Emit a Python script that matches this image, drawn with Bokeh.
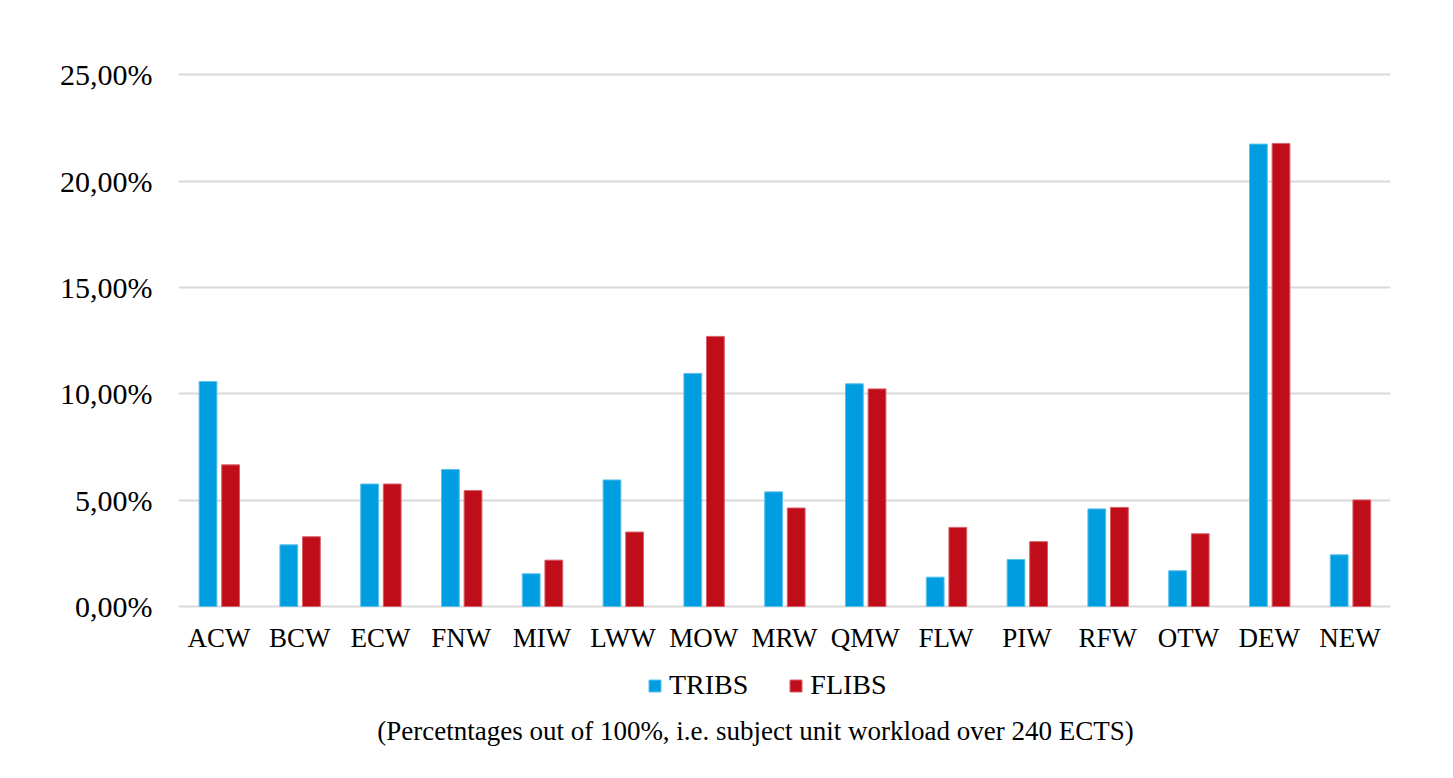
from bokeh.plotting import figure
from bokeh.models import ColumnDataSource, FactorRange, Legend, LegendItem, Label, CustomJSTickFormatter, FixedTicker, Range1d
from bokeh.transform import dodge
from bokeh.embed import file_html
from bokeh.resources import INLINE

categories = ["ACW", "BCW", "ECW", "FNW", "MIW", "LWW", "MOW", "MRW", "QMW", "FLW", "PIW", "RFW", "OTW", "DEW", "NEW"]
tribs = [10.58, 2.90, 5.76, 6.44, 1.54, 5.95, 10.96, 5.39, 10.47, 1.38, 2.21, 4.59, 1.68, 21.74, 2.43]
flibs = [6.66, 3.28, 5.76, 5.45, 2.18, 3.50, 12.70, 4.63, 10.23, 3.72, 3.05, 4.66, 3.42, 21.77, 5.01]
y_ticks = [0, 5, 10, 15, 20, 25]
series_names = ["TRIBS", "FLIBS"]
subtitle = "(Percetntages out of 100%, i.e. subject unit workload over 240 ECTS)"

BLUE = "#009EE0"
RED = "#C00D1A"
FONT = "Liberation Serif"

src = ColumnDataSource(dict(cat=categories, tribs=tribs, flibs=flibs))

# frame extends below the zero line to hold tick labels, legend and note
p = figure(x_range=FactorRange(*categories, range_padding=0), y_range=Range1d(-7.71, 25.2),
           frame_width=1212, frame_height=700, output_backend="svg", toolbar_location=None,
           min_border_left=178, min_border_right=55, min_border_top=70, min_border_bottom=0)
p.outline_line_color = None

r1 = p.vbar(x=dodge("cat", -0.135, range=p.x_range), top="tribs", width=0.22, source=src,
            fill_color=BLUE, line_color="#5CC0EC", line_width=1)
r2 = p.vbar(x=dodge("cat", 0.145, range=p.x_range), top="flibs", width=0.22, source=src,
            fill_color=RED, line_color="#D8606A", line_width=1)

p.yaxis.ticker = FixedTicker(ticks=y_ticks)
p.yaxis.formatter = CustomJSTickFormatter(code="return tick.toFixed(2).replace('.', ',') + '%';")
p.xaxis.fixed_location = 0
for ax in (p.xaxis[0], p.yaxis[0]):
    ax.axis_line_color = None
    ax.major_tick_line_color = None
    ax.minor_tick_line_color = None
    ax.major_tick_out = 0
    ax.major_tick_in = 0
    ax.major_label_text_font = FONT
    ax.major_label_text_color = "#000000"
p.xaxis.major_label_text_font_size = "27px"
p.yaxis.major_label_text_font_size = "30px"
p.yaxis.major_label_standoff = 26
p.xaxis.major_label_standoff = 16

p.xgrid.grid_line_color = None
p.ygrid.grid_line_color = "#D9D9D9"
p.ygrid.grid_line_width = 2

legend = Legend(items=[LegendItem(label=series_names[0], renderers=[r1]),
                       LegendItem(label=series_names[1], renderers=[r2])],
                orientation="horizontal", location=(469, 69),
                label_text_font=FONT, label_text_font_size="28px", label_text_color="#000000",
                glyph_width=15, glyph_height=15, label_standoff=7, spacing=40,
                border_line_color=None, background_fill_alpha=0, padding=0, margin=0,
                label_height=28)
p.add_layout(legend, "center")

note = Label(x=577, y=40, x_units="screen", y_units="screen", text=subtitle,
             text_align="center", text_baseline="middle", text_font=FONT,
             text_font_size="27px", text_color="#000000")
p.add_layout(note)

open("out.html", "w").write(file_html(p, INLINE))
